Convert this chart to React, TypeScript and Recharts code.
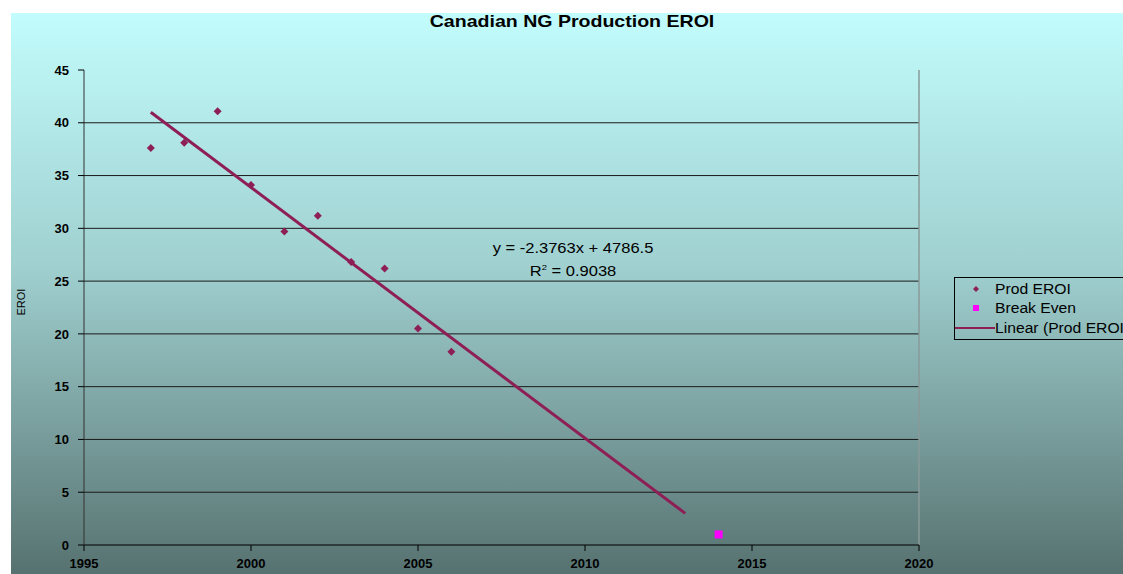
import React from "react";
import {
  CartesianGrid,
  ComposedChart,
  Line,
  ReferenceLine,
  Scatter,
  XAxis,
  YAxis,
} from "recharts";

const years = [1997, 1998, 1999, 2000, 2001, 2002, 2003, 2004, 2005, 2006];
const eroi = [37.6, 38.1, 41.1, 34.1, 29.7, 31.2, 26.8, 26.2, 20.5, 18.3];
const breakEvenYear = [2014];
const breakEvenValue = [1];
const trendYears = [1997, 2013];
const trendValues = [41.0, 3.0];
const xTicks = [1995, 2000, 2005, 2010, 2015, 2020];
const yTicks = [0, 5, 10, 15, 20, 25, 30, 35, 40, 45];
const gridValues = [5, 10, 15, 20, 25, 30, 35, 40];

const prodData = years.map((x, i) => ({ x, y: eroi[i] }));
const breakEvenData = breakEvenYear.map((x, i) => ({ x, y: breakEvenValue[i] }));
const trendData = trendYears.map((x, i) => ({ x, y: trendValues[i] }));

const font = "'Liberation Sans', Arial, sans-serif";
const maroon = "#8e1f56";

const Diamond = (props: any) => {
  const { cx, cy } = props;
  return <polygon points={`${cx},${cy - 4} ${cx + 4},${cy} ${cx},${cy + 4} ${cx - 4},${cy}`} fill={maroon} />;
};

const Square = (props: any) => {
  const { cx, cy } = props;
  return <rect x={cx - 4} y={cy - 4} width={8} height={8} fill="#ff00ff" />;
};

// legend box is clipped by the right edge, like in the original
function LegendBox() {
  const row = { display: "flex", alignItems: "center", height: 19.5 };
  const label = { transform: "scaleX(1.12)", transformOrigin: "left" };
  return (
    <div
      style={{
        position: "absolute",
        left: 954,
        top: 277,
        width: 180,
        height: 63,
        border: "1px solid #000",
        fontFamily: font,
        fontSize: 14,
        color: "#000",
        boxSizing: "border-box",
        paddingTop: 1,
        whiteSpace: "nowrap",
        overflow: "hidden",
      }}
    >
      <div style={row}>
        <svg width={40} height={12}>
          <polygon points="21,3 24,6 21,9 18,6" fill={maroon} />
        </svg>
        <span style={label}>Prod EROI</span>
      </div>
      <div style={row}>
        <svg width={40} height={12}>
          <rect x={18} y={3} width={6} height={6} fill="#ff00ff" />
        </svg>
        <span style={label}>Break Even</span>
      </div>
      <div style={row}>
        <svg width={40} height={12}>
          <line x1={0} y1={6} x2={40} y2={6} stroke={maroon} strokeWidth={2} />
        </svg>
        <span style={label}>Linear (Prod EROI)</span>
      </div>
    </div>
  );
}

export default function App() {
  return (
    <div
      style={{
        position: "absolute",
        left: 0,
        top: 0,
        width: 1123,
        height: 574,
        background: "#fff",
        overflow: "hidden",
      }}
    >
      <div
        style={{
          position: "absolute",
          left: 11,
          top: 13,
          width: 1112,
          height: 561,
          background: "linear-gradient(to bottom, #c2fcfc 0%, #a0d0d0 45%, #567270 100%)",
        }}
      />
      <div
        style={{
          position: "absolute",
          left: 572 - 200,
          top: 12,
          width: 400,
          textAlign: "center",
          fontFamily: font,
          fontWeight: "bold",
          fontSize: 17,
          color: "#000",
          transform: "scaleX(1.15)",
        }}
      >
        Canadian NG Production EROI
      </div>
      <div
        style={{
          position: "absolute",
          left: 573 - 120,
          top: 238,
          width: 240,
          textAlign: "center",
          fontFamily: font,
          fontSize: 14,
          lineHeight: "20px",
          color: "#000",
          transform: "scaleX(1.18)",
        }}
      >
        <div>y = -2.3763x + 4786.5</div>
        <div>
          R<sup style={{ fontSize: 8 }}>2</sup> = 0.9038
        </div>
      </div>
      <ComposedChart
        width={1123}
        height={574}
        margin={{ top: 70, right: 204, bottom: 0, left: 44 }}
        style={{ position: "absolute", left: 0, top: 0 }}
      >
        <CartesianGrid
          horizontal
          vertical={false}
          horizontalValues={gridValues}
          stroke="#1a1a1a"
          strokeWidth={1}
        />
        <XAxis
          type="number"
          dataKey="x"
          domain={[1995, 2020]}
          ticks={xTicks}
          allowDataOverflow
          height={29}
          tickSize={6}
          tickMargin={8}
          axisLine={{ stroke: "#000" }}
          tickLine={{ stroke: "#000" }}
          tick={{ fontSize: 13, fill: "#000", fontFamily: font, fontWeight: "bold" }}
        />
        <YAxis
          type="number"
          dataKey="y"
          domain={[0, 45]}
          ticks={yTicks}
          width={40}
          tickSize={6}
          tickMargin={9}
          axisLine={{ stroke: "#333" }}
          tickLine={{ stroke: "#000" }}
          tick={{ fontSize: 13, fill: "#000", fontFamily: font, fontWeight: "bold" }}
          label={{
            value: "EROI",
            angle: -90,
            position: "insideLeft",
            offset: -23,
            dy: 8,
            style: { fontSize: 11, fill: "#000", fontFamily: font },
          }}
        />
        <ReferenceLine x={2020} stroke="#8a9a9a" strokeWidth={1.5} />
        <Line
          data={trendData}
          dataKey="y"
          type="linear"
          stroke={maroon}
          strokeWidth={3}
          dot={false}
          activeDot={false}
          isAnimationActive={false}
          name="Linear (Prod EROI)"
        />
        <Scatter
          data={prodData}
          dataKey="y"
          shape={Diamond}
          fill={maroon}
          name="Prod EROI"
          isAnimationActive={false}
        />
        <Scatter
          data={breakEvenData}
          dataKey="y"
          shape={Square}
          fill="#ff00ff"
          name="Break Even"
          isAnimationActive={false}
        />
      </ComposedChart>
      <LegendBox />
    </div>
  );
}
